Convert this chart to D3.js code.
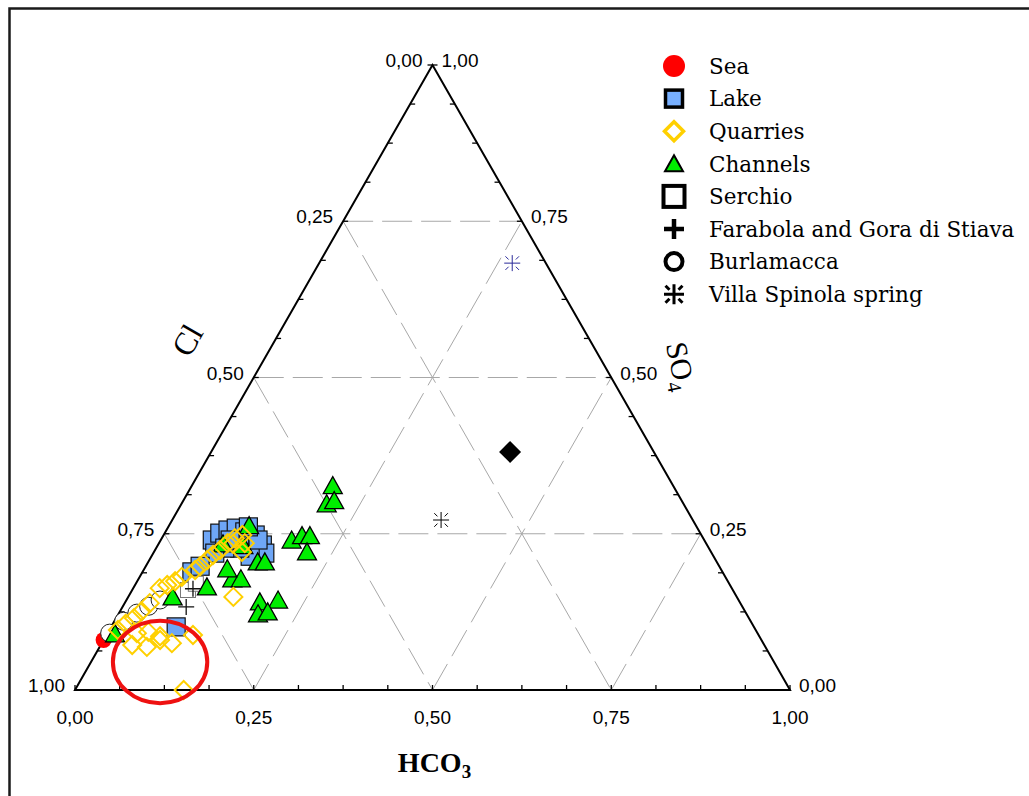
<!DOCTYPE html>
<html><head><meta charset="utf-8">
<script src="https://cdn.jsdelivr.net/npm/d3@7"></script>
<style>body{margin:0;background:#fff}svg{display:block}</style>
</head><body><svg id="c" width="1029" height="796"></svg>
<script>
// ---- data: each point is [Cl, SO4, HCO3] (fractions) ----
const sea = [[0.92, 0.08, 0.00]];
const lake = [
  [0.688,0.240,0.072],[0.672,0.251,0.077],[0.658,0.256,0.086],[0.645,0.259,0.096],
  [0.636,0.253,0.111],[0.624,0.248,0.128],[0.622,0.232,0.146],[0.625,0.219,0.156],
  [0.648,0.214,0.138],[0.656,0.227,0.117],[0.677,0.227,0.096],[0.695,0.219,0.086],
  [0.663,0.240,0.097],[0.624,0.240,0.136],[0.742,0.189,0.069],[0.726,0.198,0.076],
  [0.808,0.101,0.091],[0.627,0.261,0.112]
];
const quarries = [
  [0.892,0.096,0.012],[0.876,0.106,0.018],[0.860,0.115,0.025],[0.844,0.126,0.030],
  [0.826,0.139,0.035],[0.800,0.163,0.037],[0.787,0.168,0.045],[0.773,0.174,0.053],
  [0.760,0.181,0.059],[0.736,0.192,0.072],[0.726,0.198,0.076],[0.711,0.208,0.081],
  [0.699,0.216,0.085],[0.685,0.224,0.091],[0.669,0.235,0.096],[0.655,0.243,0.102],
  [0.642,0.248,0.110],[0.645,0.235,0.120],[0.656,0.221,0.123],[0.662,0.234,0.104],
  [0.868,0.091,0.041],[0.851,0.093,0.056],[0.838,0.086,0.076],[0.884,0.072,0.044],
  [0.865,0.069,0.066],[0.841,0.080,0.079],[0.827,0.075,0.098],[0.791,0.088,0.121],
  [0.848,0.000,0.152],[0.704,0.149,0.147]
];
const channels = [
  [0.477,0.325,0.198],[0.500,0.296,0.204],[0.487,0.301,0.212],[0.578,0.238,0.184],
  [0.560,0.245,0.195],[0.549,0.245,0.206],[0.566,0.219,0.215],[0.643,0.203,0.154],
  [0.633,0.203,0.164],[0.672,0.139,0.189],[0.645,0.142,0.213],[0.684,0.120,0.196],
  [0.669,0.123,0.208],[0.692,0.176,0.132],[0.680,0.176,0.144],[0.626,0.261,0.113],
  [0.691,0.192,0.117],[0.734,0.163,0.103],[0.790,0.147,0.063],[0.900,0.088,0.012],
  [0.677,0.232,0.091],[0.650,0.229,0.121]
];
const serchio = [[0.762,0.160,0.078],[0.746,0.170,0.084]];
const farabola = [[0.754,0.162,0.084],[0.778,0.133,0.089]];
const burlamacca = [[0.906,0.091,0.003],[0.877,0.110,0.013],[0.852,0.123,0.025],[0.830,0.134,0.036],[0.809,0.144,0.047]];
const villaSpinola = [[0.352,0.272,0.376]];
const villaSpinolaBlue = [[0.047,0.683,0.270]];
const unlabeled = [[0.201,0.381,0.418]];
const highlight = {center: [0.859, 0.045, 0.0965], rx: 0.066, ry: 0.066};

const majorTicks = [0, 0.25, 0.5, 0.75, 1];
const tickLabels = ["0,00", "0,25", "0,50", "0,75", "1,00"];
const legendNames = ["Sea","Lake","Quarries","Channels","Serchio","Farabola and Gora di Stiava","Burlamacca","Villa Spinola spring"];

// ---- scales ----
const svg = d3.select("#c");
const xS = d3.scaleLinear().domain([0,1]).range([75,790]);
const yS = d3.scaleLinear().domain([0,1]).range([690,65]);
const P = d => [xS(d[2] + d[1]/2), yS(d[1])];

// frame
svg.append("rect").attr("x",9.5).attr("y",8.5).attr("width",1100).attr("height",900)
  .attr("fill","none").attr("stroke","#1a1a1a").attr("stroke-width",2.5);

// grid
const gridG = svg.append("g").attr("stroke","#a8a8a8").attr("stroke-width",1)
  .attr("stroke-dasharray","30,9").attr("fill","none");
[0.25,0.5,0.75].forEach(k=>{
  const segs = [
    [[1-k,k,0],[0,k,1-k]],
    [[k,1-k,0],[k,0,1-k]],
    [[1-k,0,k],[0,1-k,k]]
  ];
  segs.forEach(s=>gridG.append("line")
    .attr("x1",P(s[0])[0]).attr("y1",P(s[0])[1]).attr("x2",P(s[1])[0]).attr("y2",P(s[1])[1]));
});

// triangle
const A=P([0,1,0]), BL=P([1,0,0]), BR=P([0,0,1]);
svg.append("path").attr("d",`M${BL}L${BR}L${A}Z`).attr("fill","none")
  .attr("stroke","#000").attr("stroke-width",2).attr("stroke-linejoin","miter");

// ticks
const allTicks = d3.range(0,1.0001,1/16);
const tg = svg.append("g").attr("stroke","#000").attr("stroke-width",1.3);
allTicks.forEach(t=>{
  const b = P([1-t,0,t]);  tg.append("line").attr("x1",b[0]).attr("y1",b[1]).attr("x2",b[0]).attr("y2",b[1]-5);
  const l = P([1-t,t,0]);  tg.append("line").attr("x1",l[0]).attr("y1",l[1]).attr("x2",l[0]+5).attr("y2",l[1]);
  const r = P([0,t,1-t]);  tg.append("line").attr("x1",r[0]).attr("y1",r[1]).attr("x2",r[0]-5).attr("y2",r[1]);
});

// tick labels
const lf = {"font-family":"'Liberation Sans', Arial, sans-serif","font-size":"19px","fill":"#000"};
const tl = svg.append("g");
function txt(g,x,y,s,anchor){const t=g.append("text").attr("x",x).attr("y",y).text(s).attr("text-anchor",anchor);
  Object.entries(lf).forEach(([k,v])=>t.attr(k,v)); return t;}
majorTicks.forEach((t,i)=>{
  const b = P([1-t,0,t]); txt(tl,b[0],b[1]+34,tickLabels[i],"middle");
  const l = P([t,1-t,0]); txt(tl,l[0]-10,l[1]+2,tickLabels[i],"end");
  const r = P([0,t,1-t]); txt(tl,r[0]+9,r[1]+2,tickLabels[i],"start");
});

// axis titles
const serif = "'Liberation Serif','Times New Roman',serif";
const hco = svg.append("text").attr("x",P([0.5,0,0.5])[0]+2).attr("y",772).attr("text-anchor","middle")
  .attr("font-family",serif).attr("font-size","28px").attr("font-weight","bold");
hco.append("tspan").text("HCO");
hco.append("tspan").text("3").attr("font-size","19px").attr("dy",6);
svg.append("text").attr("transform","translate(187,340) rotate(-60)").attr("text-anchor","middle")
  .attr("dy","0.35em").attr("font-family",serif).attr("font-size","32px").text("Cl");
const so = svg.append("text").attr("transform","translate(681,366) rotate(78)").attr("text-anchor","middle")
  .attr("dy","0.35em").attr("font-family",serif).attr("font-size","30px");
so.append("tspan").text("SO");
so.append("tspan").text("4").attr("font-size","20px").attr("dy",7);

// marker drawers
function square(g,x,y,s){return g.append("rect").attr("x",x-s/2).attr("y",y-s/2).attr("width",s).attr("height",s);}
function diamond(g,x,y,r){return g.append("path").attr("d",`M${x},${y-r}L${x+r},${y}L${x},${y+r}L${x-r},${y}Z`);}
function tri(g,x,y,w,h){return g.append("path").attr("d",`M${x},${y-h*0.6}L${x+w/2},${y+h*0.4}L${x-w/2},${y+h*0.4}Z`);}
function plus(g,x,y,r){return g.append("path").attr("d",`M${x-r},${y}H${x+r}M${x},${y-r}V${y+r}`);}
function aster(g,x,y,r){const a=r*0.45,b=r*0.85;
  return g.append("path").attr("d",`M${x-r},${y}H${x+r}M${x},${y-r}V${y+r}`+
   `M${x-b},${y-b}L${x-a},${y-a}M${x+a},${y-a}L${x+b},${y-b}M${x-b},${y+b}L${x-a},${y+a}M${x+a},${y+a}L${x+b},${y+b}`);}

const pts = svg.append("g");
sea.forEach(d=>{const p=P(d);pts.append("circle").attr("cx",p[0]).attr("cy",p[1]).attr("r",8).attr("fill","#ff0000");});
lake.forEach(d=>{const p=P(d);square(pts,p[0],p[1],18).attr("fill","#6ea6f6").attr("stroke","#111").attr("stroke-width",1.2);});
serchio.forEach(d=>{const p=P(d);square(pts,p[0],p[1],15).attr("fill","#fff").attr("stroke","#777").attr("stroke-width",1);});
burlamacca.forEach(d=>{const p=P(d);pts.append("circle").attr("cx",p[0]).attr("cy",p[1]).attr("r",9).attr("fill","#fff").attr("stroke","#222").attr("stroke-width",1);});
channels.forEach(d=>{const p=P(d);tri(pts,p[0],p[1],19,17).attr("fill","#00ee00").attr("stroke","#000").attr("stroke-width",1.3).attr("stroke-linejoin","miter");});
quarries.forEach(d=>{const p=P(d);diamond(pts,p[0],p[1],9).attr("fill","none").attr("stroke","#ffd000").attr("stroke-width",2);});
farabola.forEach(d=>{const p=P(d);plus(pts,p[0],p[1],8).attr("stroke","#111").attr("stroke-width",1.3);});
villaSpinola.forEach(d=>{const p=P(d);aster(pts,p[0],p[1],8).attr("stroke","#000").attr("stroke-width",1);});
villaSpinolaBlue.forEach(d=>{const p=P(d);aster(pts,p[0],p[1],8).attr("stroke","#2a2a9a").attr("stroke-width",1);});
unlabeled.forEach(d=>{const p=P(d);diamond(pts,p[0],p[1],11).attr("fill","#000");});

// highlight ellipse
const hc = P(highlight.center);
svg.append("ellipse").attr("cx",hc[0]).attr("cy",hc[1])
  .attr("rx",xS(highlight.rx)-xS(0)).attr("ry",yS(0)-yS(highlight.ry))
  .attr("fill","none").attr("stroke","#ee1111").attr("stroke-width",4);

// legend
const lg = svg.append("g");
const lx = 674, ly0 = 66, lstep = 32.6;
legendNames.forEach((n,i)=>{
  const y = ly0 + i*lstep;
  lg.append("text").attr("x",709).attr("y",y).attr("dy","0.36em").attr("font-family","'DejaVu Serif',serif")
    .attr("font-size","21.5px").text(n);
  if(i===0) lg.append("circle").attr("cx",lx).attr("cy",y).attr("r",11).attr("fill","#ff0000");
  if(i===1) square(lg,lx,y,17).attr("fill","#78b0ff").attr("stroke","#000").attr("stroke-width",3.5);
  if(i===2) diamond(lg,lx,y,9.5).attr("fill","none").attr("stroke","#ffd000").attr("stroke-width",3.5);
  if(i===3) tri(lg,lx,y+1,18,16).attr("fill","#00ee00").attr("stroke","#000").attr("stroke-width",2);
  if(i===4) square(lg,lx,y,21).attr("fill","#fff").attr("stroke","#000").attr("stroke-width",4);
  if(i===5) plus(lg,lx,y,10).attr("stroke","#000").attr("stroke-width",4.5);
  if(i===6) lg.append("circle").attr("cx",lx).attr("cy",y).attr("r",8.5).attr("fill","#fff").attr("stroke","#000").attr("stroke-width",4);
  if(i===7) aster(lg,lx,y,10).attr("stroke","#000").attr("stroke-width",3);
});
</script></body></html>
